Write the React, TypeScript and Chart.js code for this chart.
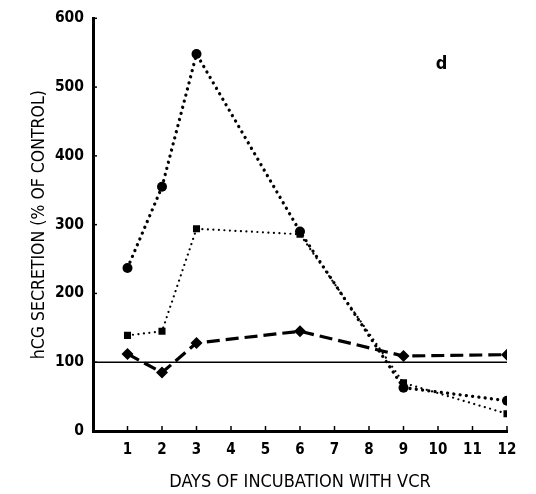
import React, { useEffect, useRef } from "react";
import { Chart, registerables } from "chart.js";

Chart.register(...registerables);

const days = [1, 2, 3, 6, 9, 12];
const circleVals = [237, 355, 548, 290, 63, 44];
const squareVals = [139, 145, 294, 286, 70, 25];
const diamondVals = [112, 85, 128, 145, 109, 111];
const controlLevel = 100;
const xTickValues = [1, 2, 3, 4, 5, 6, 7, 8, 9, 10, 11, 12];
const yTickValues = [0, 100, 200, 300, 400, 500, 600];
const panelLabel = "d";
const xTitle = "DAYS OF INCUBATION WITH VCR";
const yTitle = "hCG SECRETION (% OF CONTROL)";

const FONT = "'DejaVu Sans Condensed', 'DejaVu Sans', sans-serif";

const innerTicks = {
  id: "innerTicks",
  afterDraw(chart: any) {
    const ctx = chart.ctx;
    const xs = chart.scales.x;
    const ys = chart.scales.y;
    const area = chart.chartArea;
    ctx.save();
    ctx.strokeStyle = "#000";
    ctx.lineWidth = 1.5;
    xTickValues.forEach((v) => {
      const px = xs.getPixelForValue(v);
      ctx.beginPath();
      ctx.moveTo(px, area.bottom);
      ctx.lineTo(px, area.bottom - 5);
      ctx.stroke();
    });
    yTickValues.forEach((v) => {
      if (v === 0) return;
      const py = ys.getPixelForValue(v);
      ctx.beginPath();
      ctx.moveTo(area.left, py);
      ctx.lineTo(area.left + 4, py);
      ctx.stroke();
    });
    ctx.fillStyle = "#000";
    ctx.font = `bold 18px ${FONT}`;
    ctx.textAlign = "center";
    ctx.textBaseline = "middle";
    ctx.fillText(panelLabel, xs.getPixelForValue(10.1), ys.getPixelForValue(533));
    ctx.restore();
  },
};

export default function App() {
  const ref = useRef<HTMLCanvasElement>(null);
  useEffect(() => {
    const canvas = ref.current!;
    const pts = (vals: number[]) => days.map((d, i) => ({ x: d, y: vals[i] }));
    const chart = new Chart(canvas, {
      type: "line",
      data: {
        datasets: [
          {
            label: "control",
            data: [
              { x: 0, y: controlLevel },
              { x: 12, y: controlLevel },
            ],
            borderColor: "#000",
            borderWidth: 1.5,
            pointRadius: 0,
          },
          {
            label: "squares",
            data: pts(squareVals),
            borderColor: "#000",
            backgroundColor: "#000",
            borderWidth: 2.2,
            borderDash: [0.01, 5.5],
            borderCapStyle: "round",
            pointStyle: "rect",
            pointRadius: 5,
            pointBorderWidth: 0,
          },
          {
            label: "diamonds",
            data: pts(diamondVals),
            borderColor: "#000",
            backgroundColor: "#000",
            borderWidth: 3.2,
            borderDash: [13, 6],
            pointStyle: "rectRot",
            pointRadius: 6,
            pointBorderWidth: 0,
          },
          {
            label: "circles",
            data: pts(circleVals),
            borderColor: "#000",
            backgroundColor: "#000",
            borderWidth: 3.3,
            borderDash: [0.01, 6.3],
            borderCapStyle: "round",
            pointStyle: "circle",
            pointRadius: 5,
            pointBorderWidth: 0,
          },
        ],
      },
      options: {
        responsive: false,
        animation: false,
        devicePixelRatio: 1,
        layout: { padding: { top: 18, right: 29, left: 0, bottom: 0 } },
        plugins: { legend: { display: false }, tooltip: { enabled: false } },
        scales: {
          x: {
            type: "linear",
            min: 0,
            max: 12,
            afterBuildTicks: (s: any) => {
              s.ticks = xTickValues.map((v) => ({ value: v }));
            },
            afterFit: (s: any) => {
              s.height = 63;
            },
            grid: { display: false, drawTicks: false },
            border: { display: true, width: 3, color: "#000" },
            ticks: {
              color: "#000",
              font: { family: FONT, size: 15, weight: "bold" },
              padding: 10,
              maxRotation: 0,
              autoSkip: false,
            },
            title: {
              display: true,
              text: xTitle,
              color: "#000",
              font: { family: FONT, size: 18 },
              padding: { top: 0, bottom: 1 },
            },
          },
          y: {
            type: "linear",
            min: 0,
            max: 600,
            afterBuildTicks: (s: any) => {
              s.ticks = yTickValues.map((v) => ({ value: v }));
            },
            afterFit: (s: any) => {
              s.width = 93;
            },
            grid: { display: false, drawTicks: false },
            border: { display: true, width: 3, color: "#000" },
            ticks: {
              color: "#000",
              font: { family: FONT, size: 15.5, weight: "bold" },
              padding: 9,
              autoSkip: false,
            },
            title: {
              display: true,
              text: yTitle,
              color: "#000",
              font: { family: FONT, size: 17.5 },
              padding: { top: 29, bottom: 0 },
            },
          },
        },
      },
      plugins: [innerTicks],
    } as any);
    return () => chart.destroy();
  }, []);
  return (
    <div style={{ position: "fixed", left: 0, top: 0, width: 536, height: 494, background: "#fff" }}>
      <canvas ref={ref} width={536} height={494} style={{ width: 536, height: 494, display: "block" }} />
    </div>
  );
}
